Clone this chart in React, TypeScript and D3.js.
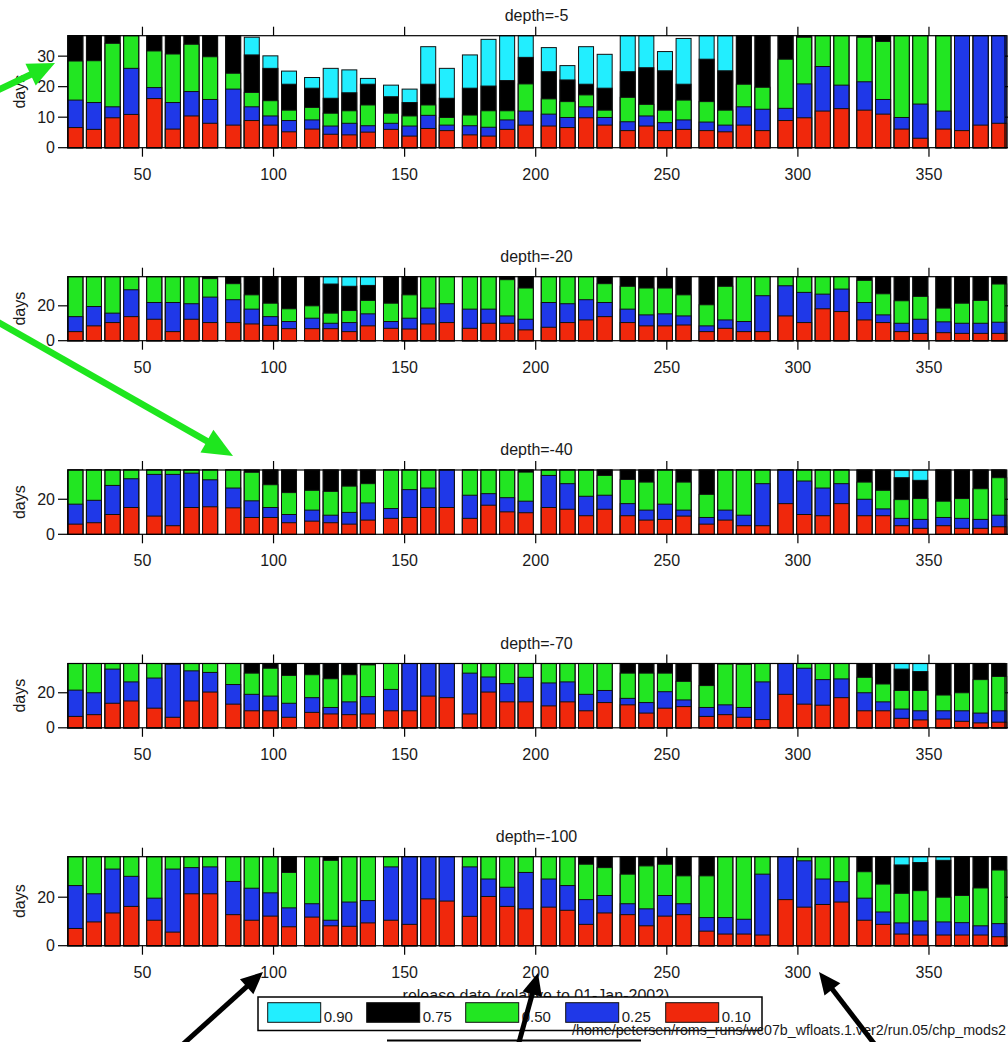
import React from 'react';
import * as d3 from 'd3';

// ---------- data ----------
const releaseDays = [
  24.4, 31.5, 38.6, 45.7, 54.5, 61.6, 68.7, 75.8, 84.6, 91.7, 98.8, 105.9,
  114.7, 121.8, 128.9, 136.0, 144.8, 151.9, 159.0, 166.1, 174.9, 182.0, 189.1, 196.2,
  205.0, 212.1, 219.2, 226.3, 235.1, 242.2, 249.3, 256.4, 265.2, 272.3, 279.4, 286.5,
  295.3, 302.4, 309.5, 316.6, 325.4, 332.5, 339.6, 346.7, 355.5, 362.6, 369.7, 376.8,
];

const quantileLabels = ['0.90', '0.75', '0.50', '0.25', '0.10'];
const quantileColors = ['#22eeff', '#000000', '#22e622', '#1f38e8', '#f0280c'];
const xTicks = [50, 100, 150, 200, 250, 300, 350];
const depthTitles = ['depth=-5', 'depth=-20', 'depth=-40', 'depth=-70', 'depth=-100'];
const yTicksTop = [0, 10, 20, 30];
const yTicksOther = [0, 20];

// depth = -5 (values above the axis top are clipped)
const d5_q10 = [6.6, 6.0, 9.8, 10.9, 16.1, 6.1, 10.4, 8.0, 7.4, 8.9, 7.4, 5.2, 6.1, 4.4, 4.2, 5.1, 6.0, 3.8, 6.3, 5.6, 4.2, 3.8, 6.0, 7.4, 7.1, 6.6, 9.8, 7.4, 5.6, 7.1, 5.6, 6.0, 5.6, 5.2, 7.4, 5.6, 8.9, 9.8, 12.0, 12.8, 12.3, 11.0, 6.1, 3.1, 6.1, 5.6, 7.4, 8.0];
const d5_q25 = [15.6, 14.8, 13.4, 26.0, 19.7, 14.8, 18.4, 15.8, 19.2, 13.4, 10.4, 8.9, 9.1, 7.1, 8.0, 7.2, 8.0, 7.1, 10.6, 7.4, 7.2, 6.7, 9.1, 12.0, 11.0, 9.9, 13.4, 9.9, 8.5, 10.4, 8.2, 9.1, 8.4, 7.4, 13.4, 12.6, 12.9, 20.9, 26.6, 20.5, 21.6, 15.8, 9.9, 14.3, 12.0, 50, 50, 50];
const d5_q50 = [28.4, 28.5, 34.2, 50, 31.7, 30.7, 33.9, 29.8, 24.4, 18.1, 15.4, 12.3, 13.2, 11.3, 12.1, 14.0, 11.3, 10.4, 14.0, 9.9, 10.7, 12.1, 12.1, 20.9, 16.0, 15.1, 17.3, 12.3, 16.5, 14.2, 12.3, 15.6, 15.1, 12.3, 20.8, 19.8, 29.0, 36.2, 50, 50, 36.2, 34.8, 50, 50, 50, 50, 50, 50];
const d5_q75 = [50, 50, 50, 50, 50, 50, 50, 50, 50, 30.4, 26.0, 20.8, 19.5, 16.2, 18.0, 20.8, 16.7, 14.8, 20.8, 16.2, 19.5, 20.2, 22.0, 29.6, 24.9, 22.2, 20.8, 19.5, 24.9, 26.2, 25.2, 20.8, 29.0, 25.2, 50, 50, 50, 50, 50, 50, 50, 50, 50, 50, 50, 50, 50, 50];
const d5_q90 = [50, 50, 50, 50, 50, 50, 50, 50, 50, 36.2, 30.1, 25.1, 23.0, 26.0, 25.5, 22.7, 20.5, 19.2, 33.1, 26.0, 30.4, 35.5, 50, 50, 32.8, 26.9, 33.1, 30.6, 50, 50, 31.5, 35.8, 50, 50, 50, 50, 50, 50, 50, 50, 50, 50, 50, 50, 50, 50, 50, 50];

// depth = -20
const d20_q10 = [5.2, 8.5, 10.4, 13.8, 12.3, 5.2, 12.3, 10.4, 10.4, 9.6, 8.8, 6.9, 6.9, 6.9, 5.2, 8.5, 7.1, 6.7, 9.6, 10.4, 7.1, 10.0, 10.0, 6.2, 7.7, 10.4, 11.9, 13.8, 10.4, 8.5, 8.5, 9.0, 5.2, 7.1, 5.2, 5.2, 14.2, 10.4, 18.3, 16.7, 11.9, 10.4, 5.2, 4.2, 4.6, 4.2, 4.2, 4.2];
const d20_q25 = [13.8, 19.6, 15.8, 29.2, 21.9, 21.9, 21.2, 25.0, 23.5, 18.1, 13.8, 11.0, 12.9, 10.0, 10.4, 15.4, 11.0, 12.9, 18.7, 21.2, 18.1, 18.1, 14.2, 12.3, 21.9, 21.2, 23.5, 21.9, 18.1, 14.8, 15.4, 14.2, 8.5, 11.9, 11.0, 25.8, 31.5, 27.7, 26.7, 29.6, 21.9, 14.8, 10.0, 12.3, 10.8, 10.0, 10.0, 10.6];
const d20_q50 = [50, 50, 50, 50, 50, 50, 50, 35.6, 32.7, 26.3, 21.5, 18.3, 20.0, 15.8, 17.3, 23.1, 21.5, 26.3, 50, 50, 50, 50, 35.0, 30.2, 50, 50, 50, 32.7, 31.2, 30.2, 30.2, 26.3, 20.6, 31.2, 50, 50, 50, 50, 50, 50, 34.6, 26.9, 22.9, 25.4, 18.7, 21.5, 23.1, 32.5];
const d20_q75 = [50, 50, 50, 50, 50, 50, 50, 50, 50, 50, 50, 50, 50, 32.5, 31.2, 31.7, 50, 50, 50, 50, 50, 50, 50, 50, 50, 50, 50, 50, 50, 50, 50, 50, 50, 50, 50, 50, 50, 50, 50, 50, 50, 50, 50, 50, 50, 50, 50, 50];
const d20_q90 = [50, 50, 50, 50, 50, 50, 50, 50, 50, 50, 50, 50, 50, 50, 50, 50, 50, 50, 50, 50, 50, 50, 50, 50, 50, 50, 50, 50, 50, 50, 50, 50, 50, 50, 50, 50, 50, 50, 50, 50, 50, 50, 50, 50, 50, 50, 50, 50];

// depth = -40
const d40_q10 = [5.8, 6.6, 11.3, 15.3, 10.4, 4.9, 15.3, 15.7, 15.1, 9.6, 9.6, 6.6, 7.5, 6.6, 5.8, 8.1, 9.1, 9.6, 15.3, 15.3, 9.1, 16.6, 12.8, 12.3, 15.3, 14.3, 10.6, 14.3, 10.6, 8.1, 8.5, 10.4, 5.8, 8.1, 4.9, 4.9, 17.5, 11.3, 10.6, 17.5, 10.6, 10.6, 4.9, 3.4, 4.9, 3.4, 3.4, 4.3];
const d40_q25 = [17.2, 19.4, 27.9, 31.7, 34.2, 34.2, 34.9, 31.1, 26.4, 19.1, 15.3, 11.3, 13.8, 10.9, 12.5, 17.9, 14.7, 25.5, 26.4, 50, 22.3, 23.2, 20.9, 18.9, 33.6, 28.9, 21.7, 22.3, 17.5, 13.8, 17.2, 13.8, 9.6, 13.8, 10.9, 28.9, 50, 30.4, 26.4, 28.9, 20.0, 14.5, 9.1, 8.5, 9.6, 9.1, 8.5, 10.9];
const d40_q50 = [50, 50, 50, 50, 50, 50, 50, 50, 50, 35.4, 28.3, 23.8, 25.1, 24.5, 27.5, 28.9, 50, 50, 50, 50, 50, 50, 50, 35.5, 50, 50, 50, 33.6, 31.3, 29.8, 50, 29.8, 22.8, 50, 50, 50, 50, 50, 50, 50, 29.8, 25.1, 19.8, 20.4, 18.9, 20.4, 26.0, 32.3];
const d40_q75 = [50, 50, 50, 50, 50, 50, 50, 50, 50, 50, 50, 50, 50, 50, 50, 50, 50, 50, 50, 50, 50, 50, 50, 50, 50, 50, 50, 50, 50, 50, 50, 50, 50, 50, 50, 50, 50, 50, 50, 50, 50, 50, 32.3, 30.8, 50, 50, 50, 50];
const d40_q90 = [50, 50, 50, 50, 50, 50, 50, 50, 50, 50, 50, 50, 50, 50, 50, 50, 50, 50, 50, 50, 50, 50, 50, 50, 50, 50, 50, 50, 50, 50, 50, 50, 50, 50, 50, 50, 50, 50, 50, 50, 50, 50, 50, 50, 50, 50, 50, 50];

// depth = -70
const d70_q10 = [6.5, 7.5, 14.0, 15.3, 11.2, 6.0, 15.3, 20.4, 13.5, 9.7, 9.7, 6.0, 8.8, 7.9, 7.5, 7.9, 9.7, 9.7, 18.1, 17.2, 7.9, 20.4, 14.8, 14.8, 12.5, 14.8, 9.7, 14.4, 13.1, 8.4, 11.2, 12.1, 6.5, 7.5, 6.0, 4.7, 19.1, 13.5, 12.9, 17.2, 9.7, 9.7, 5.4, 4.5, 5.0, 3.7, 2.8, 3.2];
const d70_q25 = [21.5, 20.0, 33.5, 26.2, 28.4, 36.3, 32.5, 31.6, 24.7, 19.1, 18.1, 14.0, 17.2, 11.6, 14.8, 17.8, 21.9, 50, 50, 50, 31.2, 29.0, 25.2, 28.8, 25.6, 26.2, 19.1, 21.3, 16.8, 14.4, 20.6, 15.9, 11.6, 13.1, 11.6, 26.2, 50, 34.0, 27.5, 27.9, 20.0, 14.8, 10.7, 9.7, 9.7, 9.7, 8.4, 9.7];
const d70_q50 = [50, 50, 50, 50, 50, 50, 50, 50, 50, 31.2, 34.0, 29.9, 30.3, 28.0, 30.3, 35.9, 50, 50, 50, 50, 50, 50, 50, 50, 50, 50, 50, 50, 31.2, 31.2, 31.2, 26.5, 24.1, 36.4, 36.3, 50, 50, 50, 50, 50, 28.8, 25.0, 21.3, 21.3, 18.7, 20.0, 27.5, 29.3];
const d70_q75 = [50, 50, 50, 50, 50, 50, 50, 50, 50, 50, 50, 50, 50, 50, 50, 50, 50, 50, 50, 50, 50, 50, 50, 50, 50, 50, 50, 50, 50, 50, 50, 50, 50, 50, 50, 50, 50, 50, 50, 50, 50, 50, 33.5, 32.1, 50, 50, 50, 50];
const d70_q90 = [50, 50, 50, 50, 50, 50, 50, 50, 50, 50, 50, 50, 50, 50, 50, 50, 50, 50, 50, 50, 50, 50, 50, 50, 50, 50, 50, 50, 50, 50, 50, 50, 50, 50, 50, 50, 50, 50, 50, 50, 50, 50, 50, 50, 50, 50, 50, 50];

// depth = -100
const d100_q10 = [7.1, 9.8, 13.5, 16.2, 10.5, 5.6, 21.4, 21.4, 12.8, 10.5, 12.2, 7.8, 11.8, 8.2, 8.0, 9.4, 10.5, 8.8, 19.3, 18.4, 12.1, 20.3, 16.2, 15.2, 15.9, 14.6, 8.8, 13.5, 12.8, 8.2, 12.2, 12.8, 6.0, 4.8, 4.8, 4.4, 19.0, 15.9, 17.0, 18.0, 10.5, 8.8, 4.8, 4.4, 4.4, 4.4, 4.4, 3.7];
const d100_q25 = [24.8, 21.4, 31.6, 28.6, 19.6, 31.6, 32.2, 32.5, 26.5, 23.7, 21.8, 15.6, 17.3, 10.5, 18.0, 18.6, 32.5, 50, 50, 50, 32.5, 27.5, 24.1, 30.2, 27.5, 24.8, 19.0, 20.7, 17.3, 15.2, 20.7, 17.3, 11.6, 11.6, 10.9, 29.5, 50, 35.0, 27.5, 26.4, 19.6, 13.9, 9.4, 10.2, 9.8, 9.5, 8.2, 9.1];
const d100_q50 = [50, 50, 50, 50, 50, 50, 50, 50, 50, 50, 50, 30.2, 50, 35.2, 50, 50, 50, 50, 50, 50, 50, 50, 50, 50, 50, 50, 33.6, 32.2, 29.5, 32.9, 33.6, 28.8, 28.8, 50, 50, 50, 50, 50, 50, 50, 30.5, 25.4, 21.6, 22.7, 20.0, 20.7, 23.8, 31.2];
const d100_q75 = [50, 50, 50, 50, 50, 50, 50, 50, 50, 50, 50, 50, 50, 50, 50, 50, 50, 50, 50, 50, 50, 50, 50, 50, 50, 50, 50, 50, 50, 50, 50, 50, 50, 50, 50, 50, 50, 50, 50, 50, 50, 50, 33.3, 34.3, 35.2, 50, 50, 50];
const d100_q90 = [50, 50, 50, 50, 50, 50, 50, 50, 50, 50, 50, 50, 50, 50, 50, 50, 50, 50, 50, 50, 50, 50, 50, 50, 50, 50, 50, 50, 50, 50, 50, 50, 50, 50, 50, 50, 50, 50, 50, 50, 50, 50, 50, 50, 50, 50, 50, 50];

const panelSeries = [
  [d5_q90, d5_q75, d5_q50, d5_q25, d5_q10],
  [d20_q90, d20_q75, d20_q50, d20_q25, d20_q10],
  [d40_q90, d40_q75, d40_q50, d40_q25, d40_q10],
  [d70_q90, d70_q75, d70_q50, d70_q25, d70_q10],
  [d100_q90, d100_q75, d100_q50, d100_q25, d100_q10],
];

// ---------- layout ----------
const W = 1008;
const H = 1042;
const plotLeft = 68;
const plotRight = 1005;
const panelTops = [35.7, 276.7, 470, 663.5, 856.7];
const panelBottoms = [147.7, 340.7, 534.3, 727.8, 945.7];
const yMax = 36.7;
const barW = 15;
const FONT = "'Liberation Sans', Arial, Helvetica, sans-serif";
const TXT = '#1a1a1a';

function Arrow({ x1, y1, x2, y2, color, width, headLen, headHalf }: any) {
  const dx = x2 - x1;
  const dy = y2 - y1;
  const L = Math.hypot(dx, dy);
  const ux = dx / L;
  const uy = dy / L;
  const bx = x2 - ux * headLen;
  const by = y2 - uy * headLen;
  const px = -uy;
  const py = ux;
  const pts = `${x2},${y2} ${bx + px * headHalf},${by + py * headHalf} ${bx - px * headHalf},${by - py * headHalf}`;
  return (
    <g>
      <line x1={x1} y1={y1} x2={bx + ux * 2} y2={by + uy * 2} stroke={color} strokeWidth={width} />
      <polygon points={pts} fill={color} />
    </g>
  );
}

export default function App() {
  const x = d3.scaleLinear().domain([21.6, 379]).range([plotLeft, plotRight]);

  const legendSwatchX = [267.7, 366.7, 465.7, 565.7, 665.7];

  return (
    <div style={{ position: 'absolute', left: 0, top: 0 }}>
      <svg width={W} height={H} style={{ display: 'block', background: '#fff' }} fontFamily={FONT}>
        <rect x={0} y={0} width={W} height={H} fill="#fff" />
        {depthTitles.map((title, pi) => {
          const top = panelTops[pi];
          const bottom = panelBottoms[pi];
          const y = d3.scaleLinear().domain([0, yMax]).range([bottom, top]);
          const yTicks = pi === 0 ? yTicksTop : yTicksOther;
          const series = panelSeries[pi];
          return (
            <g key={title}>
              <text x={(plotLeft + plotRight) / 2} y={top - 15} textAnchor="middle" fontSize={16} fill={TXT}>
                {title}
              </text>
              {releaseDays.map((d, i) => (
                <g key={i}>
                  {series.map((s, li) => {
                    const v = Math.min(s[i], yMax);
                    return (
                      <rect
                        key={li}
                        x={x(d) - barW / 2}
                        y={y(v)}
                        width={barW}
                        height={y(0) - y(v)}
                        fill={quantileColors[li]}
                        stroke="#111"
                        strokeWidth={1}
                      />
                    );
                  })}
                </g>
              ))}
              <rect x={plotLeft} y={top} width={plotRight - plotLeft} height={bottom - top} fill="none" stroke="#000" strokeWidth={1.2} />
              {xTicks.map((t) => (
                <g key={t}>
                  <line x1={x(t)} x2={x(t)} y1={top - 9} y2={top} stroke="#000" strokeWidth={1.2} />
                  <line x1={x(t)} x2={x(t)} y1={bottom} y2={bottom + 9} stroke="#000" strokeWidth={1.2} />
                  <text x={x(t)} y={bottom + 32} textAnchor="middle" fontSize={16} fill={TXT}>
                    {t}
                  </text>
                </g>
              ))}
              {yTicks.map((t) => (
                <g key={t}>
                  <line x1={plotLeft - 10} x2={plotLeft} y1={y(t)} y2={y(t)} stroke="#000" strokeWidth={1.2} />
                  <line x1={plotRight} x2={plotRight + 10} y1={y(t)} y2={y(t)} stroke="#000" strokeWidth={1.2} />
                  <text x={55} y={y(t) + 5.5} textAnchor="end" fontSize={16} fill={TXT}>
                    {t}
                  </text>
                </g>
              ))}
              <text
                transform={`translate(25,${(top + bottom) / 2}) rotate(-90)`}
                textAnchor="middle"
                fontSize={16}
                fill={TXT}
              >
                days
              </text>
            </g>
          );
        })}

        <text x={536} y={1001} textAnchor="middle" fontSize={16} fill={TXT}>
          release date (relative to 01-Jan-2002)
        </text>

        <rect x={258} y={997} width={504} height={33.5} fill="#fff" stroke="#000" strokeWidth={1.5} />
        {quantileLabels.map((lab, i) => (
          <g key={lab}>
            <rect x={legendSwatchX[i]} y={1002.7} width={53} height={19.6} fill={quantileColors[i]} stroke="#111" strokeWidth={1} />
            <text x={legendSwatchX[i] + 56} y={1022} fontSize={15} fill={TXT}>
              {lab}
            </text>
          </g>
        ))}

        <text x={572} y={1035} fontSize={14} fill={TXT} textLength={434} lengthAdjust="spacingAndGlyphs">
          /home/petersen/roms_runs/wc07b_wfloats.1.ver2/run.05/chp_mods2
        </text>

        <line x1={387} x2={641} y1={1040.5} y2={1040.5} stroke="#000" strokeWidth={2.2} />

        <Arrow x1={-2} y1={90} x2={55} y2={63} color="#1ee61e" width={6.5} headLen={27} headHalf={12} />
        <Arrow x1={-2} y1={322} x2={233} y2={456} color="#1ee61e" width={6.5} headLen={30} headHalf={13} />
        <Arrow x1={181} y1={1046} x2={263} y2={972} color="#000" width={5} headLen={22} headHalf={10} />
        <Arrow x1={518} y1={1046} x2={538} y2={973} color="#000" width={5} headLen={22} headHalf={10} />
        <Arrow x1={876} y1={1046} x2={819} y2={972} color="#000" width={5} headLen={22} headHalf={10} />
      </svg>
    </div>
  );
}
